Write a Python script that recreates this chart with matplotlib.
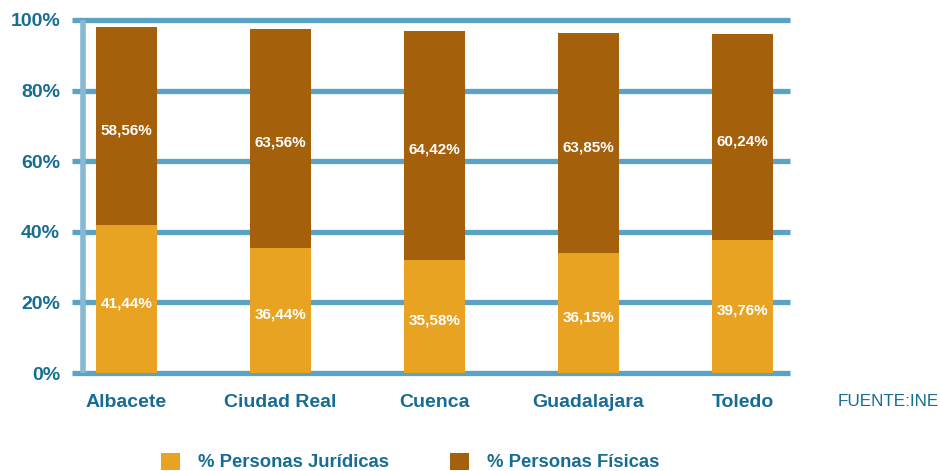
import matplotlib
matplotlib.use("Agg")
import matplotlib.pyplot as plt

plt.rcParams['font.family'] = ['Liberation Sans', 'DejaVu Sans']

categories = ["Albacete", "Ciudad Real", "Cuenca", "Guadalajara", "Toledo"]
juridicas = [42.0, 35.4, 32.0, 34.0, 37.7]
fisicas = [56.0, 62.1, 64.9, 62.3, 58.3]
juridicas_labels = ["41,44%", "36,44%", "35,58%", "36,15%", "39,76%"]
fisicas_labels = ["58,56%", "63,56%", "64,42%", "63,85%", "60,24%"]
yticks = [0, 20, 40, 60, 80, 100]
ytick_labels = ["0%", "20%", "40%", "60%", "80%", "100%"]

C_JUR = "#E9A323"
C_FIS = "#A5600C"
C_GRID = "#5BA3C6"
C_AXIS = "#86B9D4"
C_TEXT = "#176C94"

fig = plt.figure(figsize=(9.4, 4.71), dpi=100)
ax = fig.add_axes([72/940, (471-373)/471, (790-72)/940, 353/471])
x = list(range(len(categories)))
ax.set_xlim((72-126.5)/154, (790-126.5)/154)
ax.set_ylim(0, 100)

for v in yticks:
    ax.axhline(v, color=C_GRID, lw=3.8, zorder=1, clip_on=False, solid_capstyle='butt')
ax.plot([(83-126.5)/154]*2, [0, 100], color=C_AXIS, lw=4, zorder=1.5, clip_on=False,
        solid_capstyle='butt')

b1 = ax.bar(x, juridicas, width=0.396, color=C_JUR, zorder=2, label="% Personas Jurídicas")
b2 = ax.bar(x, fisicas, width=0.396, bottom=juridicas, color=C_FIS, zorder=2,
            label="% Personas Físicas")

for i in x:
    ax.annotate(juridicas_labels[i], (i, juridicas[i]/2), xytext=(0, -3), textcoords='offset points',
                ha='center', va='center', color='white', fontsize=11, fontweight='bold', zorder=3)
    ax.annotate(fisicas_labels[i], (i, juridicas[i] + fisicas[i]/2), xytext=(0, -3),
                textcoords='offset points', ha='center', va='center',
                color='white', fontsize=11, fontweight='bold', zorder=3)

for s in ax.spines.values():
    s.set_visible(False)
ax.set_yticks(yticks)
ax.set_yticklabels(ytick_labels)
ax.set_xticks(x)
ax.set_xticklabels(categories)
ax.tick_params(axis='both', length=0, labelcolor=C_TEXT, labelsize=14)
ax.tick_params(axis='y', pad=8.5)
ax.tick_params(axis='x', pad=15)
for t in ax.get_xticklabels() + ax.get_yticklabels():
    t.set_fontweight('bold')

fig.text(838/940, 1-402/471, "FUENTE:INE", color=C_TEXT, fontsize=12.3, ha='left', va='center')

fig.legend(handles=[b1, b2], loc='center', bbox_to_anchor=(410/940, 1-462/471), ncol=2,
           frameon=False, prop={'weight': 'bold', 'size': 13.3},
           handlelength=1.05, handleheight=1.05, handletextpad=0.95, columnspacing=3.3,
           labelcolor=C_TEXT, borderpad=0)

fig.savefig("out.png", dpi=100)
